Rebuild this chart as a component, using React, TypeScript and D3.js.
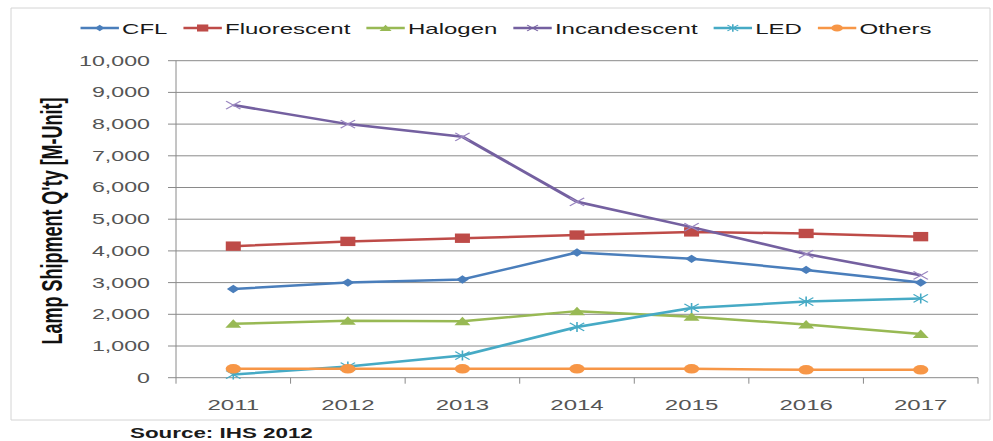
import * as d3 from 'd3'
import { useEffect, useRef } from "react";

// values (M-Unit)
const years = ['2011', '2012', '2013', '2014', '2015', '2016', '2017'];
const cfl = [2800, 3000, 3100, 3950, 3750, 3400, 3000];
const fluorescent = [4150, 4300, 4400, 4500, 4600, 4550, 4450];
const halogen = [1700, 1800, 1780, 2100, 1920, 1680, 1380];
const incandescent = [8600, 8000, 7600, 5550, 4750, 3900, 3230];
const led = [100, 350, 700, 1600, 2200, 2400, 2500];
const others = [280, 280, 280, 280, 280, 250, 250];
const yTicks = [0, 1000, 2000, 3000, 4000, 5000, 6000, 7000, 8000, 9000, 10000];

const series = [
  { name: 'CFL', values: cfl, color: '#4a7ebb', marker: 'diamond' },
  { name: 'Fluorescent', values: fluorescent, color: '#be4b48', marker: 'square' },
  { name: 'Halogen', values: halogen, color: '#98b954', marker: 'triangle' },
  { name: 'Incandescent', values: incandescent, color: '#7460a0', marker: 'x' },
  { name: 'LED', values: led, color: '#46aac5', marker: 'star' },
  { name: 'Others', values: others, color: '#f79646', marker: 'circle' },
];

// the reference picture is stretched horizontally, so draw in a narrower space
const SX = 1.6;
const W = 993;
const H = 441;

const markerPath = (m: string, s = 1) => {
  const k = (v: number) => v * s;
  switch (m) {
    case 'diamond': return `M0,${k(-4.2)}L${k(4)},0L0,${k(4.2)}L${k(-4)},0Z`;
    case 'square': return `M${k(-4.7)},${k(-4.7)}h${k(9.4)}v${k(9.4)}h${k(-9.4)}Z`;
    case 'triangle': return `M0,${k(-4.5)}L${k(5)},${k(4)}L${k(-5)},${k(4)}Z`;
    case 'x': return `M${k(-4.5)},${k(-4)}L${k(4.5)},${k(4)}M${k(-4.5)},${k(4)}L${k(4.5)},${k(-4)}`;
    case 'star': return `M${k(-4.5)},${k(-4)}L${k(4.5)},${k(4)}M${k(-4.5)},${k(4)}L${k(4.5)},${k(-4)}M0,${k(-5)}L0,${k(5)}`;
    default: return d3.symbol(d3.symbolCircle, 72 * s * s)() as string;
  }
};

const App = () => {
  const svgRef = useRef(null);

  useEffect(() => {
    const svg = d3.select(svgRef.current);
    svg.selectAll('*').remove();
    const g = svg.append('g').attr('transform', `scale(${SX},1)`);
    const font = '"Liberation Sans", Arial, sans-serif';

    const x = d3.scaleBand().domain(years).range([176 / SX, 978 / SX]);
    const y = d3.scaleLinear().domain([0, 10000]).range([377.7, 60.7]);

    // outer frame
    g.append('rect')
      .attr('x', 11 / SX).attr('y', 8)
      .attr('width', (990 - 11) / SX).attr('height', 412)
      .attr('fill', 'white').attr('stroke', '#d4d4d4')
      .attr('vector-effect', 'non-scaling-stroke');

    // gridlines + y ticks
    g.selectAll('.grid').data(yTicks).enter().append('line')
      .attr('x1', 168 / SX).attr('x2', 978 / SX)
      .attr('y1', d => y(d)).attr('y2', d => y(d))
      .attr('stroke', '#8a8a8a')
      .attr('stroke-width', 1)
      .attr('vector-effect', 'non-scaling-stroke');

    g.selectAll('.ylab').data(yTicks).enter().append('text')
      .attr('x', 150 / SX).attr('y', d => y(d) + 5)
      .attr('text-anchor', 'end')
      .attr('font-family', font).attr('font-size', 14.5)
      .attr('fill', '#555')
      .text(d => d3.format(',')(d));

    // y axis line
    g.append('line')
      .attr('x1', 176 / SX).attr('x2', 176 / SX)
      .attr('y1', y(10000)).attr('y2', y(0))
      .attr('stroke', '#8a8a8a')
      .attr('vector-effect', 'non-scaling-stroke');

    // x ticks at category boundaries
    const bounds = years.map(d => x(d) as number).concat([x.range()[1]]);
    g.selectAll('.xtick').data(bounds).enter().append('line')
      .attr('x1', d => d).attr('x2', d => d)
      .attr('y1', y(0)).attr('y2', y(0) + 6)
      .attr('stroke', '#8a8a8a')
      .attr('vector-effect', 'non-scaling-stroke');

    g.selectAll('.xlab').data(years).enter().append('text')
      .attr('x', d => (x(d) as number) + x.bandwidth() / 2)
      .attr('y', 410)
      .attr('text-anchor', 'middle')
      .attr('font-family', font).attr('font-size', 15)
      .attr('fill', '#555')
      .text(d => d);

    // y axis title
    g.append('text')
      .attr('transform', `translate(${62 / SX},221) rotate(-90)`)
      .attr('text-anchor', 'middle')
      .attr('font-family', font).attr('font-size', 18)
      .attr('font-weight', 'bold')
      .attr('fill', '#111')
      .text("Lamp Shipment Q'ty [M-Unit]");

    // source note
    g.append('text')
      .attr('x', 130 / SX).attr('y', 438)
      .attr('font-family', font).attr('font-size', 14)
      .attr('font-weight', 'bold')
      .attr('fill', '#1a1a1a')
      .text('Source: IHS 2012');

    // series lines and markers
    const line = d3.line<number>()
      .x((_, i) => (x(years[i]) as number) + x.bandwidth() / 2)
      .y(d => y(d));

    series.forEach(s => {
      g.append('path')
        .attr('d', line(s.values))
        .attr('fill', 'none')
        .attr('stroke', s.color)
        .attr('stroke-width', 2.5)
        .attr('stroke-linejoin', 'round');

      const open = s.marker === 'x' || s.marker === 'star';
      g.selectAll(null).data(s.values).enter().append('path')
        .attr('transform', (d, i) => `translate(${(x(years[i]) as number) + x.bandwidth() / 2},${y(d)})`)
        .attr('d', markerPath(s.marker))
        .attr('fill', open ? 'none' : s.color)
        .attr('stroke', open ? (s.marker === 'x' ? '#9a86c0' : s.color) : 'none')
        .attr('stroke-width', 1);
    });

    // legend
    const leg = g.append('g');
    let cx = 0;
    series.forEach(s => {
      const item = leg.append('g').attr('transform', `translate(${cx},28)`);
      item.append('line').attr('x1', 0).attr('x2', 24).attr('y1', 0).attr('y2', 0)
        .attr('stroke', s.color).attr('stroke-width', 2.4);
      const open = s.marker === 'x' || s.marker === 'star';
      item.append('path').attr('transform', 'translate(12,0)')
        .attr('d', markerPath(s.marker, 0.75))
        .attr('fill', open ? 'none' : s.color)
        .attr('stroke', open ? s.color : 'none');
      const t = item.append('text').attr('x', 26).attr('y', 5.5)
        .attr('font-family', font).attr('font-size', 15)
        .attr('fill', '#1a1a1a').text(s.name);
      const tw = (t.node() as SVGTextElement).getComputedTextLength();
      cx += 26 + tw + 10;
    });
    const total = cx - 10;
    leg.attr('transform', `translate(${506 / SX - total / 2},0)`);
  }, []);

  return (
    <div style={{ position: 'absolute', left: 0, top: 0 }}>
      <svg ref={svgRef} width={W} height={H} style={{ display: 'block', background: 'white' }} />
    </div>
  );
};

export default App;
